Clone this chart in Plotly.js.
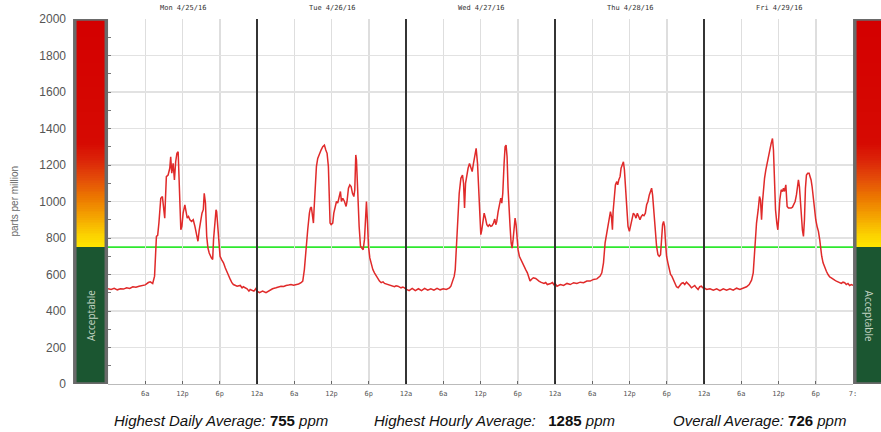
<!DOCTYPE html>
<html>
<head>
<meta charset="utf-8">
<script src="https://cdn.plot.ly/plotly-3.0.1.min.js"></script>
<style>
html,body{margin:0;padding:0;background:#fff;}
#chart{width:881px;height:432px;}
</style>
</head>
<body>
<div id="chart"></div>
<script>
// ---------------- data ----------------
const dayLabels = ['Mon 4/25/16', 'Tue 4/26/16', 'Wed 4/27/16', 'Thu 4/28/16', 'Fri 4/29/16'];
const hourTickLabels = ['6a', '12p', '6p', '12a'];
const lastTickLabel = '7:';
const acceptableLimit = 750;
const highestDailyAvg = 755;
const highestHourlyAvg = 1285;
const overallAvg = 726;

// hour of day / ppm for each day
const monHours = [0,0.5,1,1.5,2,2.5,3,3.5,4,4.5,5,5.5,6,6.5,6.8,7.2,7.5,7.8,8,8.2,8.5,8.76,8.86,9.14,9.24,9.4,9.68,9.95,10.1,10.27,10.49,10.7,10.9,11.1,11.3,11.46,11.57,11.73,11.9,12.1,12.38,12.54,12.76,12.97,13.19,13.46,13.73,14,14.27,14.49,14.7,14.92,15.14,15.35,15.5,15.7,15.8,15.9,16.1,16.3,16.65,16.86,17,17.2,17.4,17.5,17.7,17.9,18.05,18.3,18.6,18.9,19.1,19.4,19.7,19.95,20.2,20.8,21.3,21.6,21.8,22.4,22.7,22.9,23.5,23.8];
const monPpm = [522,518,524,516,522,520,527,524,533,530,536,538,543,556,560,551,591,809,815,882,1018,1027,1000,909,1000,1136,1145,1182,1245,1155,1209,1118,1218,1264,1273,1064,918,845,864,936,982,955,909,918,900,891,900,864,809,782,845,900,936,955,1045,991,882,809,745,718,691,682,791,900,955,945,845,718,700,682,664,636,618,591,573,555,545,536,540,527,533,522,509,518,509,522];

const tueHours = [0,0.4,0.9,1.45,2,2.5,3.06,3.5,3.87,4.3,4.68,5.1,5.48,5.9,6.29,6.7,7.1,7.37,7.63,7.9,8.17,8.44,8.6,8.76,8.92,9.09,9.19,9.35,9.57,9.78,10.05,10.32,10.59,10.86,11.08,11.29,11.5,11.67,11.77,11.94,12.2,12.37,12.58,12.8,13,13.28,13.44,13.6,13.82,14.09,14.35,14.5,14.73,14.95,15.16,15.38,15.6,15.75,15.91,16.02,16.13,16.24,16.45,16.67,16.88,17.1,17.31,17.47,17.63,17.8,17.96,18.17,18.39,18.66,18.92,19.19,19.46,19.73,20,20.3,20.54,21.08,21.6,22.15,22.4,22.7,23.2,23.5,23.76];
const tuePpm = [509,500,509,500,514,522,527,531,536,534,540,542,545,541,543,548,555,564,627,755,845,936,964,969,936,882,955,1100,1191,1236,1264,1282,1300,1309,1282,1264,1191,1027,882,873,882,936,973,1000,991,1027,1055,1000,1018,1000,973,1000,1073,1091,1082,1045,1027,1064,1255,1227,1100,1027,864,755,745,736,791,936,1000,882,755,691,655,627,609,591,573,564,555,560,551,545,536,533,538,536,527,531,527];

const wedHours = [0,0.5,1,1.5,2,2.5,3,3.5,4,4.5,5,5.5,6,6.5,7,7.23,7.5,7.77,7.93,8.09,8.3,8.57,8.84,9.1,9.27,9.43,9.59,9.8,10,10.23,10.44,10.66,10.87,11.09,11.3,11.52,11.68,11.84,12.05,12.21,12.37,12.59,12.8,13.02,13.23,13.44,13.66,13.87,14.09,14.3,14.46,14.62,14.84,15.05,15.27,15.43,15.59,15.8,15.96,16.12,16.28,16.44,16.6,16.76,16.93,17.09,17.25,17.41,17.57,17.73,17.89,18.05,18.26,18.48,18.75,19,19.28,19.55,19.76,19.98,20.19,20.5,20.89,21.16,21.42,21.69,22.23,22.5,22.76,23.3,23.6,23.8];
const wedPpm = [520,512,524,512,522,512,524,514,522,514,524,516,522,518,527,536,564,591,627,755,918,1045,1127,1145,1100,964,1100,1155,1182,1209,1191,1164,1209,1255,1291,1209,1064,936,818,845,900,936,909,873,864,873,864,868,882,904,873,891,945,973,1018,991,1045,1209,1300,1309,1245,1073,936,864,773,745,791,882,909,873,791,736,700,682,664,645,627,609,582,564,573,582,578,573,564,558,551,556,545,551,556,545];

const thuHours = [0,0.32,0.86,1.39,1.93,2.46,3,3.53,4.06,4.6,5.13,5.67,6.2,6.74,7.27,7.54,7.81,8.07,8.34,8.61,8.77,8.93,9.09,9.25,9.36,9.52,9.73,9.95,10.1,10.27,10.48,10.64,10.86,11.02,11.18,11.34,11.55,11.76,11.98,12.19,12.41,12.62,12.83,13.05,13.26,13.48,13.69,13.9,14.12,14.33,14.55,14.76,14.97,15.19,15.4,15.56,15.72,15.94,16.15,16.36,16.58,16.79,17,17.17,17.33,17.49,17.65,17.81,17.97,18.18,18.4,18.61,18.82,19.04,19.3,19.57,19.84,20.1,20.37,20.64,20.9,21.18,21.44,21.71,21.98,22.25,22.51,22.78,23.05,23.32,23.58,23.8];
const thuPpm = [551,536,545,540,551,545,555,551,558,555,564,564,573,576,591,609,664,773,827,882,927,945,918,845,945,1027,1091,1109,1091,1118,1136,1182,1209,1218,1173,1082,955,864,836,873,918,936,927,909,936,913,900,918,927,922,936,982,1000,1036,1064,1073,1036,936,827,755,709,700,709,791,873,891,864,773,700,664,627,600,591,576,555,533,527,540,551,555,545,558,550,540,527,536,540,527,518,533,536,527];

const friHours = [0,0.43,0.96,1.5,2.04,2.57,3.1,3.64,4.18,4.71,5.25,5.78,6.32,6.86,7.28,7.66,7.93,8.09,8.25,8.46,8.73,8.94,9.1,9.27,9.43,9.59,9.75,9.96,10.18,10.39,10.6,10.82,11.03,11.19,11.36,11.52,11.73,11.89,12.05,12.21,12.43,12.64,12.8,12.96,13.18,13.39,13.6,13.82,14.03,14.25,14.46,14.68,14.89,15.05,15.21,15.37,15.53,15.69,15.85,16.02,16.18,16.34,16.5,16.71,16.93,17.09,17.25,17.41,17.57,17.78,18,18.21,18.43,18.64,18.8,18.96,19.18,19.44,19.71,19.98,20.25,20.51,20.78,21.05,21.32,21.59,21.85,22.12,22.39,22.66,22.92,23.19,23.46,23.73,24];
const friPpm = [527,518,522,514,522,512,522,514,522,514,525,518,525,533,545,569,609,700,827,882,955,1027,1009,900,1000,1082,1127,1173,1218,1245,1282,1318,1345,1282,1118,955,882,845,918,1009,1064,1055,1073,1055,1091,973,964,964,964,969,982,1000,1036,1082,1118,1082,982,900,845,809,900,1073,1145,1155,1155,1136,1118,1082,1027,955,900,864,836,791,736,700,664,636,618,600,587,582,573,569,564,558,555,551,558,555,545,551,540,545,540];

// ---------------- build ----------------
const dayHours = [monHours, tueHours, wedHours, thuHours, friHours];
const dayPpm = [monPpm, tuePpm, wedPpm, thuPpm, friPpm];
const nDays = dayLabels.length;
const xAll = [], yAll = [];
dayHours.forEach((hrs, d) => {
  hrs.forEach((h, i) => { xAll.push(d * 24 + h); yAll.push(dayPpm[d][i]); });
});

const tickvals = [0], ticktext = [''];
for (let d = 0; d < nDays; d++) {
  hourTickLabels.forEach((lab, k) => {
    tickvals.push(d * 24 + (k + 1) * 6);
    ticktext.push(lab);
  });
}
ticktext[ticktext.length - 1] = lastTickLabel;

// gradient column for the quality bars
const yMax = 2000;
const bandEdges = [], bandZ = [];
for (let v = 0; v <= yMax; v += 10) bandEdges.push(v);
for (let i = 0; i < bandEdges.length - 1; i++) bandZ.push([bandEdges[i] + 5]);
const barScale = [
  [0, '#1b5631'], [0.3749, '#1b5631'], [0.375, '#ffe600'], [0.41, '#fbd000'],
  [0.46, '#f4a200'], [0.51, '#ec7800'], [0.56, '#e44e08'], [0.61, '#dc2608'],
  [0.66, '#d60a02'], [1, '#d40000']
];

const W = 808; // plot area width in px (paper)
const px = p => (p - 73) / W;

const traces = [
  {type: 'heatmap', x: [0], y: bandEdges, z: bandZ, xaxis: 'x2', yaxis: 'y',
   colorscale: barScale, zmin: 0, zmax: yMax, showscale: false, hoverinfo: 'skip'},
  {type: 'heatmap', x: [0], y: bandEdges, z: bandZ, xaxis: 'x3', yaxis: 'y',
   colorscale: barScale, zmin: 0, zmax: yMax, showscale: false, hoverinfo: 'skip'},
  {type: 'scatter', mode: 'lines', x: xAll, y: yAll, xaxis: 'x', yaxis: 'y',
   line: {color: '#e02a2a', width: 1.5}, hoverinfo: 'skip', showlegend: false}
];

const shapes = [];
for (let d = 1; d < nDays; d++) {
  shapes.push({type: 'line', xref: 'x', yref: 'y domain', x0: d * 24, x1: d * 24, y0: 0, y1: 1,
    line: {color: '#222', width: 1.8}});
}
shapes.push({type: 'line', xref: 'x', yref: 'y', x0: 0, x1: nDays * 24, y0: acceptableLimit, y1: acceptableLimit,
  line: {color: '#2fe82f', width: 1.6}, layer: 'below'});
shapes.push({type: 'rect', xref: 'paper', yref: 'y', x0: px(74.8), x1: px(106.3), y0: 0, y1: yMax,
  line: {color: '#6a6a6a', width: 3.5}});
shapes.push({type: 'rect', xref: 'paper', yref: 'y', x0: px(854.8), x1: px(886), y0: 0, y1: yMax,
  line: {color: '#6a6a6a', width: 3.5}});

const annotations = [];
dayLabels.forEach((lab, d) => {
  annotations.push({text: lab, xref: 'x', yref: 'paper', x: d * 24 + 12, y: 1 + 11 / 365,
    showarrow: false, xanchor: 'center', yanchor: 'middle',
    font: {family: 'DejaVu Sans Mono', size: 7, color: '#333'}});
});
annotations.push({text: 'Acceptable', xref: 'paper', yref: 'y', x: px(90.5), y: 375, textangle: -90,
  showarrow: false, xanchor: 'center', yanchor: 'middle',
  font: {family: 'Open Sans', size: 10, color: '#c4d4c4'}});
annotations.push({text: 'Acceptable', xref: 'paper', yref: 'y', x: px(869), y: 375, textangle: 90,
  showarrow: false, xanchor: 'center', yanchor: 'middle',
  font: {family: 'Open Sans', size: 10, color: '#c4d4c4'}});
annotations.push({text: 'parts per million', xref: 'paper', yref: 'paper', x: px(14), y: 0.5, textangle: -90,
  showarrow: false, xanchor: 'center', yanchor: 'middle',
  font: {family: 'Liberation Sans', size: 10, color: '#666'}});
const statFont = {family: 'Liberation Sans', size: 15, color: '#111'};
const yStat = -(420 - 384) / 365;
annotations.push({text: '<i>Highest Daily Average: </i><b>' + highestDailyAvg + '</b><i> ppm</i>',
  xref: 'paper', yref: 'paper', x: px(221), y: yStat, xanchor: 'center', yanchor: 'middle',
  showarrow: false, font: statFont});
annotations.push({text: '<i>Highest Hourly Average:</i>\u00a0\u00a0\u00a0<b>' + highestHourlyAvg + '</b><i> ppm</i>',
  xref: 'paper', yref: 'paper', x: px(494), y: yStat, xanchor: 'center', yanchor: 'middle',
  showarrow: false, font: statFont});
annotations.push({text: '<i>Overall Average: </i><b>' + overallAvg + '</b><i> ppm</i>',
  xref: 'paper', yref: 'paper', x: px(759), y: yStat, xanchor: 'center', yanchor: 'middle',
  showarrow: false, font: statFont});

const layout = {
  width: 881, height: 432,
  margin: {l: 73, r: 0, t: 19, b: 48, pad: 0},
  paper_bgcolor: '#fff', plot_bgcolor: '#fff',
  showlegend: false,
  xaxis: {domain: [px(108), px(853)], range: [0, nDays * 24], anchor: 'y',
    tickvals: tickvals, ticktext: ticktext, showgrid: true, gridcolor: '#dedede', gridwidth: 1.5,
    ticks: 'inside', ticklen: 3, tickcolor: '#666', ticklabelstandoff: 3,
    tickfont: {family: 'DejaVu Sans Mono', size: 7, color: '#555'},
    zeroline: false, showline: true, linecolor: '#bbb', linewidth: 1, fixedrange: true},
  xaxis2: {domain: [px(75), px(106)], visible: false, anchor: 'y', fixedrange: true},
  xaxis3: {domain: [px(855), 1], visible: false, anchor: 'y', fixedrange: true},
  yaxis: {range: [0, yMax], dtick: 200, tick0: 0, anchor: 'x',
    showgrid: true, gridcolor: '#e2e2e2', gridwidth: 1.5, zeroline: false,
    ticks: 'inside', ticklen: 3, tickcolor: '#777', ticklabelstandoff: 41,
    minor: {dtick: 100, ticks: 'inside', ticklen: 3, tickcolor: '#777', showgrid: false},
    tickfont: {family: 'Liberation Sans', size: 12, color: '#555'},
    showline: false, fixedrange: true},
  shapes: shapes,
  annotations: annotations
};

Plotly.newPlot('chart', traces, layout, {staticPlot: true, displayModeBar: false});
</script>
</body>
</html>
